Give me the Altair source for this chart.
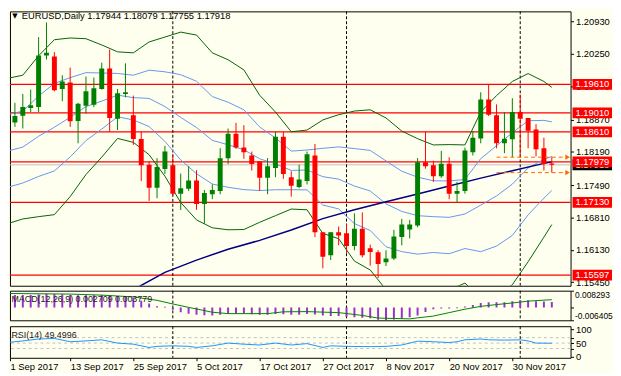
import json
import altair as alt
import pandas as pd

FONT = "Liberation Sans"
BG = "#FFFFF0"
UP = "#008000"
DOWN = "#FF0000"

# ---------------- values ----------------
symbol_title = "EURUSD,Daily  1.17944 1.18079 1.17755 1.17918"
macd_title = "MACD(12,26,9) 0.002709 0.003779"
rsi_title = "RSI(14) 49.4996"

tick_bars = [0, 8, 16, 24, 32, 40, 48, 56, 64]
tick_labels = ["1 Sep 2017", "13 Sep 2017", "25 Sep 2017", "5 Oct 2017", "17 Oct 2017",
               "27 Oct 2017", "8 Nov 2017", "20 Nov 2017", "30 Nov 2017"]

opens = [1.19085, 1.18807, 1.18952, 1.19112, 1.19133, 1.20218, 1.20198, 1.19512, 1.19652, 1.18842,
         1.19160, 1.19180, 1.19512, 1.19942, 1.18890, 1.19409, 1.18960, 1.18462, 1.17922, 1.17436,
         1.17831, 1.17908, 1.17312, 1.17416, 1.17590, 1.17092, 1.17299, 1.17368, 1.18059, 1.18572,
         1.18281, 1.18115, 1.17991, 1.17644, 1.17852, 1.18510, 1.17659, 1.17451, 1.17576, 1.18115,
         1.16502, 1.16019, 1.16502, 1.16481, 1.16212, 1.16573, 1.16164, 1.16081, 1.15867, 1.15950,
         1.16398, 1.16558, 1.16641, 1.17970, 1.17908, 1.17679, 1.17943, 1.17312, 1.17368, 1.18184,
         1.18474, 1.19292, 1.18960, 1.18371, 1.18454, 1.19029, 1.18904, 1.18661, 1.18267, 1.17944]
highs = [1.19811, 1.19222, 1.19409, 1.19500, 1.20606, 1.20912, 1.20289, 1.19803, 1.19963, 1.19222,
         1.19776, 1.19755, 1.20067, 1.20343, 1.19512, 1.20052, 1.19375, 1.18614, 1.17991, 1.18059,
         1.18317, 1.18142, 1.17735, 1.17887, 1.17804, 1.17389, 1.17507, 1.18267, 1.18682, 1.18800,
         1.18753, 1.18198, 1.17991, 1.18059, 1.18614, 1.18614, 1.17783, 1.17922, 1.18198, 1.18358,
         1.16502, 1.16502, 1.16620, 1.16677, 1.16897, 1.16917, 1.16241, 1.16122, 1.16122, 1.16552,
         1.16780, 1.16760, 1.18059, 1.18614, 1.18005, 1.18213, 1.18080, 1.17561, 1.18281, 1.18628,
         1.19444, 1.19604, 1.19189, 1.19029, 1.19319, 1.19396, 1.18904, 1.18773, 1.18489, 1.18079]
lows = [1.18495, 1.18717, 1.18682, 1.19029, 1.19029, 1.20135, 1.19465, 1.19257, 1.18717, 1.18371,
        1.18993, 1.19133, 1.19500, 1.18614, 1.18649, 1.19340, 1.18337, 1.17576, 1.17160, 1.17216,
        1.17727, 1.17264, 1.16967, 1.17368, 1.16973, 1.16677, 1.17196, 1.17299, 1.17935, 1.18254,
        1.18047, 1.17798, 1.17368, 1.17299, 1.17659, 1.17623, 1.17250, 1.17424, 1.17507, 1.16398,
        1.15742, 1.15915, 1.16226, 1.16066, 1.16122, 1.15971, 1.15796, 1.15535, 1.15790, 1.15915,
        1.16226, 1.16371, 1.16606, 1.17839, 1.17561, 1.17644, 1.17196, 1.17125, 1.17312, 1.18115,
        1.18371, 1.18946, 1.18267, 1.18163, 1.18080, 1.18080, 1.18267, 1.18095, 1.17798, 1.17755]
closes = [1.18649, 1.18946, 1.19133, 1.19174, 1.20218, 1.20274, 1.19485, 1.19672, 1.18836, 1.19201,
          1.19465, 1.19527, 1.19942, 1.18904, 1.19423, 1.19444, 1.18462, 1.17908, 1.17436, 1.17872,
          1.18198, 1.17312, 1.17424, 1.17590, 1.17092, 1.17326, 1.17389, 1.18059, 1.18572, 1.18281,
          1.18184, 1.17935, 1.17644, 1.17887, 1.18510, 1.17727, 1.17478, 1.17611, 1.18142, 1.16502,
          1.15983, 1.16502, 1.16434, 1.16212, 1.16573, 1.16019, 1.16087, 1.15832, 1.15950, 1.16413,
          1.16662, 1.16662, 1.17970, 1.17887, 1.17679, 1.17943, 1.17312, 1.17368, 1.18219, 1.18489,
          1.19292, 1.18973, 1.18371, 1.18468, 1.19029, 1.18890, 1.18634, 1.18246, 1.17935, 1.17918]

band_bars = [0, 2, 4, 6, 8, 10, 12, 14, 16, 18, 20, 22, 24, 26, 28, 30, 32, 34, 36, 38,
             40, 42, 44, 46, 48, 50, 52, 54, 56, 58, 60, 62, 64, 66, 68, 69]
bb_upper2 = [1.19735, 1.19803, 1.20212, 1.20550, 1.20586, 1.20571, 1.20440, 1.20295, 1.20274, 1.20503,
             1.20606, 1.20710, 1.20648, 1.20274, 1.20129, 1.19915, 1.19382, 1.19029, 1.18614, 1.18649,
             1.18863, 1.18973, 1.19049, 1.19076, 1.18904, 1.18628, 1.18468, 1.18337, 1.18344, 1.18337,
             1.19029, 1.19375, 1.19672, 1.19838, 1.19672, 1.19548]
bb_upper1 = [1.18970, 1.19048, 1.19366, 1.19630, 1.19753, 1.19857, 1.19850, 1.19840, 1.19803, 1.19909,
             1.19875, 1.19814, 1.19676, 1.19354, 1.19235, 1.19076, 1.18714, 1.18484, 1.18207, 1.18230,
             1.18266, 1.18295, 1.18261, 1.18222, 1.18001, 1.17783, 1.17659, 1.17583, 1.17579, 1.17611,
             1.18050, 1.18320, 1.18593, 1.18845, 1.18854, 1.18822]
bb_mid = [1.18205, 1.18292, 1.18520, 1.18709, 1.18919, 1.19143, 1.19259, 1.19384, 1.19332, 1.19315,
          1.19143, 1.18917, 1.18703, 1.18433, 1.18340, 1.18236, 1.18045, 1.17939, 1.17800, 1.17810,
          1.17669, 1.17617, 1.17472, 1.17368, 1.17098, 1.16938, 1.16849, 1.16828, 1.16814, 1.16884,
          1.17071, 1.17264, 1.17513, 1.17852, 1.18036, 1.18095]
bb_lower1 = [1.17441, 1.17536, 1.17674, 1.17790, 1.18085, 1.18429, 1.18670, 1.18929, 1.18862, 1.18723,
             1.18411, 1.18021, 1.17732, 1.17514, 1.17446, 1.17397, 1.17378, 1.17394, 1.17394, 1.17392,
             1.17072, 1.16991, 1.16683, 1.16538, 1.16195, 1.16093, 1.16040, 1.16074, 1.16049, 1.16158,
             1.16092, 1.16209, 1.16434, 1.16866, 1.17217, 1.17379]
bb_lower2 = [1.16677, 1.16780, 1.16828, 1.16870, 1.17250, 1.17715, 1.18080, 1.18474, 1.18391, 1.18130,
             1.17679, 1.17125, 1.16760, 1.16594, 1.16552, 1.16558, 1.16710, 1.16849, 1.16988, 1.16973,
             1.16475, 1.16365, 1.15894, 1.15707, 1.15292, 1.15248, 1.15230, 1.15319, 1.15284, 1.15431,
             1.15113, 1.15153, 1.15396, 1.15880, 1.16398, 1.16662]

sma_bars = [16, 20, 24, 28, 32, 36, 40, 44, 48, 52, 56, 60, 64, 68, 69]
sma_vals = [1.15292, 1.15655, 1.15915, 1.16143, 1.16330, 1.16548, 1.16787, 1.16973, 1.17140,
            1.17306, 1.17472, 1.17638, 1.17793, 1.17949, 1.17980]

macd_main = [0.0064, 0.0062, 0.0062, 0.0061, 0.0064, 0.0068, 0.0066, 0.0065, 0.0062, 0.0060,
             0.0060, 0.0060, 0.0062, 0.0057, 0.0055, 0.0053, 0.0046, 0.0033, 0.0019, 0.0006,
             0.0003, -0.0012, -0.0024, -0.0031, -0.0036, -0.0039, -0.0040, -0.0036, -0.0032, -0.0031,
             -0.0032, -0.0034, -0.0036, -0.0036, -0.0033, -0.0034, -0.0036, -0.0036, -0.0033, -0.0035,
             -0.0040, -0.0043, -0.0043, -0.0047, -0.0049, -0.0051, -0.0054, -0.0061, -0.0064, -0.0060,
             -0.0055, -0.0049, -0.0040, -0.0023, -0.0009, -0.0005, -0.0005, -0.0004, 0.0005, 0.0012,
             0.0022, 0.0026, 0.0026, 0.0026, 0.0031, 0.0035, 0.0035, 0.0031, 0.0029, 0.0027]
signal_bars = [0, 8, 12, 16, 19, 21, 23, 26, 28, 33, 35, 38, 42, 45, 47, 51, 52, 54, 56, 58,
               60, 62, 64, 66, 68, 69]
signal_vals = [0.0069, 0.0066, 0.0061, 0.0052, 0.0035, 0.0017, 0.0000, -0.0024, -0.0031, -0.0031,
               -0.0022, -0.0021, -0.0026, -0.0040, -0.0053, -0.0057, -0.0052, -0.0043, -0.0026, -0.0009,
               0.0005, 0.0014, 0.0022, 0.0031, 0.0036, 0.0038]

rsi_bars = [0, 2, 4, 6, 8, 10, 12, 14, 16, 18, 19, 21, 23, 24, 26, 28, 30, 32, 34, 36,
            38, 40, 41, 43, 46, 48, 50, 51, 52, 54, 56, 57, 58, 60, 61, 63, 65, 66, 67, 69]
rsi_vals = [52, 58, 65, 67, 55, 58, 62, 50, 46, 34, 38, 40, 38, 34, 40, 50, 46, 43, 50, 43,
            48, 34, 40, 38, 37, 38, 43, 50, 57, 55, 52, 55, 62, 65, 62, 61, 62, 58, 50, 49.4996]

levels = [1.19610, 1.19010, 1.18610, 1.17979, 1.17130, 1.15597]
current_price = 1.17918
day_range = [1.18079, 1.17755]
arrow_bars = [62, 70.6, 71.0]      # dashed start, dashed end, arrow tip
separator_bars = [21, 43, 65]
price_ticks = [1.20930, 1.20250, 1.19570, 1.18870, 1.18190, 1.17490, 1.16810, 1.16130, 1.15450]
macd_ticks = [-0.006405, 0.0, 0.008293]
rsi_levels = [30, 50, 70]
rsi_ticks = [0, 30, 50, 70, 100]

price_domain = [1.15375, 1.21146]
bar_domain = [0.375, 71.375]
rsi_domain = [-4, 112]

# ---------------- layout ----------------
W, H_MAIN, H_MACD, H_RSI = 568, 278, 30, 32
BOX = "M-1,-0.27L1,-0.27L1,0.27L-1,0.27Z"

xscale = alt.Scale(domain=bar_domain, nice=False, zero=False, padding=0)
pscale = alt.Scale(domain=price_domain, nice=False, zero=False, padding=0)
mscale = alt.Scale(domain=[macd_ticks[0], macd_ticks[-1]], nice=False, zero=False, padding=0)
rscale = alt.Scale(domain=rsi_domain, nice=False, zero=False, padding=0)

price_axis = alt.Axis(orient="right", values=price_ticks, format=".5f", labelFlush=False)
macd_axis = alt.Axis(orient="right", values=macd_ticks, labelFlush=True, labelFontSize=8.5,
                     labelPadding=1,
                     labelExpr="datum.value == 0 ? '0.00' : toString(datum.value)")
rsi_axis = alt.Axis(orient="right", values=rsi_ticks, labelFlush=False)
tick_vals = [max(b, bar_domain[0]) for b in tick_bars]
x_axis = alt.Axis(values=tick_vals, labelAlign="left", labelPadding=1, tickSize=3,
                  labelExpr=f"{json.dumps(tick_labels)}[indexof({json.dumps(tick_vals)}, datum.value)]")


def xq(field="i", axis=None):
    return alt.X(f"{field}:Q", scale=xscale, axis=axis, title=None)


def py(field):
    return alt.Y(f"{field}:Q", scale=pscale, axis=price_axis, title=None)


n = len(opens)
bars = list(range(n))
candles = pd.DataFrame({"i": bars, "open": opens, "high": highs, "low": lows, "close": closes})
candles["dir"] = ["up" if c >= o else "down" for o, c in zip(opens, closes)]

levels_df = pd.DataFrame({"level": levels, "label": [f"{v:.5f}" for v in levels]})
cur_df = pd.DataFrame({"level": [current_price], "label": [f"{current_price:.5f}"]})
sep_df = pd.DataFrame({"i": separator_bars})

lev_layer = alt.Chart(levels_df).mark_rule(color=DOWN, strokeWidth=1.3).encode(y=py("level"))
cur_layer = alt.Chart(cur_df).mark_rule(color="#C0C0C0", strokeWidth=1).encode(y=py("level"))


def sep_layer(axis=None):
    return alt.Chart(sep_df).mark_rule(color="black", strokeDash=[3, 2], strokeWidth=1).encode(
        x=xq(axis=axis))


band_layers = []
for vals, col in [(bb_upper2, "#006400"), (bb_lower2, "#006400"), (bb_upper1, "#6495ED"),
                  (bb_mid, "#6495ED"), (bb_lower1, "#6495ED")]:
    df = pd.DataFrame({"i": band_bars, "v": vals})
    band_layers.append(alt.Chart(df).mark_line(color=col, strokeWidth=1, clip=True)
                       .encode(x=xq(), y=py("v")))

sma_layer = alt.Chart(pd.DataFrame({"i": sma_bars, "v": sma_vals})).mark_line(
    color="#000080", strokeWidth=1.5, clip=True).encode(x=xq(), y=py("v"))

candle_layers = []
for d, col in [("up", UP), ("down", DOWN)]:
    base = alt.Chart(candles).transform_filter(alt.datum.dir == d)
    candle_layers.append(base.mark_rule(color=col, strokeWidth=1, clip=True).encode(
        x=xq(), y=py("low"), y2=alt.Y2("high:Q")))
    candle_layers.append(base.mark_bar(color=col, width=5, clip=True, orient="vertical").encode(
        x=xq(), y=py("open"), y2=alt.Y2("close:Q")))

arrow_df = pd.DataFrame({"y": day_range, "x0": [arrow_bars[0]] * 2, "x1": [arrow_bars[1]] * 2,
                         "tip": [arrow_bars[2]] * 2})
arrow_lines = alt.Chart(arrow_df).mark_rule(color="#FF6600", strokeDash=[4, 3], strokeWidth=1).encode(
    x=xq("x0"), x2=alt.X2("x1:Q"), y=py("y"))
arrow_tips = alt.Chart(arrow_df).mark_point(shape="triangle-right", filled=True, size=28,
                                            color="#FF6600", opacity=1).encode(x=xq("tip"), y=py("y"))

title_df = pd.DataFrame({"t": [symbol_title]})
title_layer = alt.Chart(title_df).mark_text(align="left", baseline="middle", font=FONT,
                                            fontSize=9.5, color="black").encode(
    x=alt.value(12), y=alt.value(5), text="t:N")
tri_layer = alt.Chart(pd.DataFrame({"t": ["\u25BC"]})).mark_text(
    align="center", baseline="middle", font="DejaVu Sans", fontSize=7, color="black").encode(
    x=alt.value(5), y=alt.value(5), text="t:N")

cur_box = alt.Chart(cur_df).mark_point(shape=BOX, size=1600, filled=True, color="black",
                                       opacity=1, strokeWidth=0).encode(x=alt.value(590), y=py("level"))
cur_txt = alt.Chart(cur_df).mark_text(align="left", baseline="middle", font=FONT, fontSize=9.5,
                                      color="white").encode(x=alt.value(573), y=py("level"), text="label:N")
lev_box = alt.Chart(levels_df).mark_point(shape=BOX, size=1600, filled=True, color=DOWN,
                                          opacity=1, strokeWidth=0).encode(x=alt.value(590), y=py("level"))
lev_txt = alt.Chart(levels_df).mark_text(align="left", baseline="middle", font=FONT, fontSize=9.5,
                                         color="white").encode(x=alt.value(573), y=py("level"), text="label:N")

main = alt.layer(lev_layer, cur_layer, sep_layer(), *band_layers, sma_layer, *candle_layers,
                 arrow_lines, arrow_tips, title_layer, tri_layer, cur_box, cur_txt, lev_box, lev_txt
                 ).properties(width=W, height=H_MAIN)

# ---------------- MACD panel ----------------
macd_df = pd.DataFrame({"i": bars, "m": macd_main})
hist = alt.Chart(macd_df).mark_rule(color="#9932CC", strokeWidth=2, clip=True).encode(
    x=xq(), y=alt.Y("m:Q", scale=mscale, axis=macd_axis, title=None), y2=alt.datum(0))
sig = alt.Chart(pd.DataFrame({"i": signal_bars, "m": signal_vals})).mark_line(
    color="#008000", strokeWidth=1, clip=True).encode(
    x=xq(), y=alt.Y("m:Q", scale=mscale, axis=macd_axis, title=None))
macd_lbl = alt.Chart(pd.DataFrame({"t": [macd_title]})).mark_text(
    align="left", baseline="middle", font=FONT, fontSize=9, color="#202020").encode(
    x=alt.value(1.5), y=alt.value(8), text="t:N")
macd = alt.layer(sep_layer(), hist, sig, macd_lbl).properties(width=W, height=H_MACD)

# ---------------- RSI panel ----------------
rsi_df = pd.DataFrame({"i": rsi_bars, "r": rsi_vals})
rsi_line = alt.Chart(rsi_df).mark_line(color="#1E90FF", strokeWidth=1, clip=True).encode(
    x=xq(axis=x_axis), y=alt.Y("r:Q", scale=rscale, axis=rsi_axis, title=None))
rsi_lev = alt.Chart(pd.DataFrame({"r": rsi_levels})).mark_rule(
    color="#C0C0C0", strokeDash=[3, 3], strokeWidth=1).encode(
    y=alt.Y("r:Q", scale=rscale, axis=rsi_axis, title=None))
rsi_lbl = alt.Chart(pd.DataFrame({"t": [rsi_title]})).mark_text(
    align="left", baseline="middle", font=FONT, fontSize=9, color="#202020").encode(
    x=alt.value(1.5), y=alt.value(9), text="t:N")
rsi = alt.layer(rsi_lev, sep_layer(x_axis), rsi_line, rsi_lbl).properties(width=W, height=H_RSI)

chart = (alt.vconcat(main, macd, rsi, spacing=2)
         .properties(padding=0, background=BG)
         .configure_view(stroke="black", strokeWidth=1, fill=BG)
         .configure_axis(labelFont=FONT, labelFontSize=9.5, labelColor="black", tickColor="black",
                         tickSize=3, labelPadding=2, domain=False, grid=False))

chart.save("out.html", embed_options={"renderer": "svg", "actions": False})
